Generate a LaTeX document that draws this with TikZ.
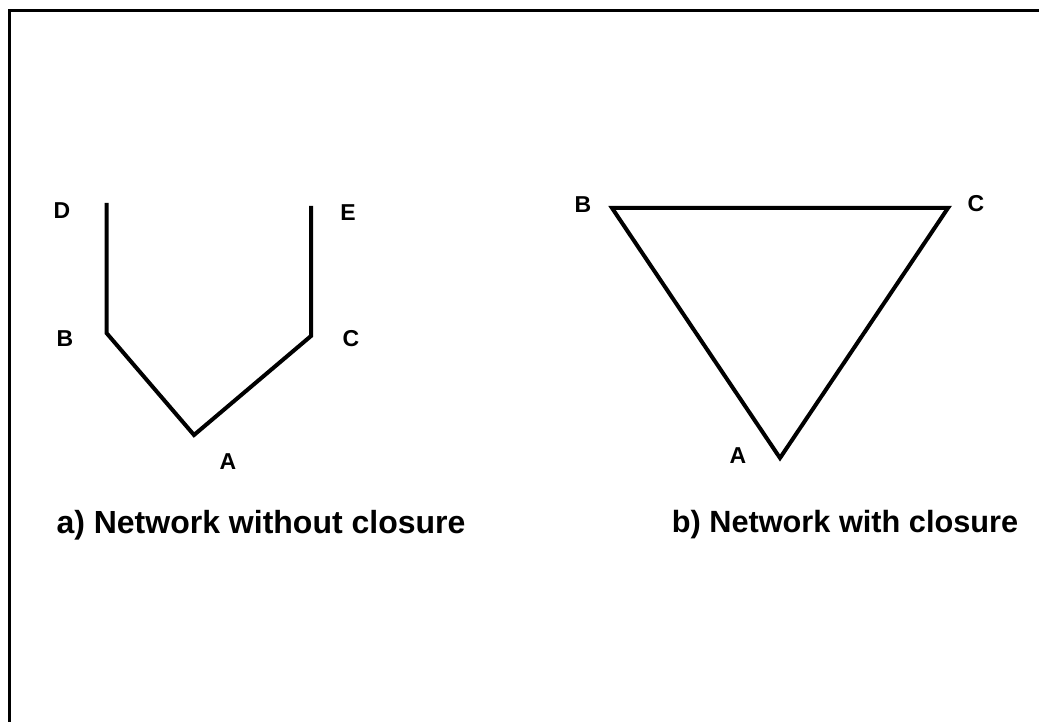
\documentclass[tikz,border=0pt]{standalone}
\usepackage{fontspec}
\setmainfont{Liberation Sans}
\usepackage{tikz}

\tikzset{
  lbl/.style={font=\fontsize{23}{26}\selectfont\bfseries, inner sep=0pt},
  capt/.style={font=\fontsize{32}{36}\selectfont\bfseries, inner sep=0pt},
  netline/.style={line width=4pt, line join=miter},
}

\begin{document}
\begin{tikzpicture}[x=1pt, y=-1pt]
        \useasboundingbox (0,0) rectangle (1039,722);
        % frame (cut off at the right and at the bottom)
        \draw[line width=3pt] (9,725) -- (9,11) -- (1042,11);
        % a) network without closure
        \coordinate (aD) at (106.5,203);
        \coordinate (aB) at (106.5,333);
        \coordinate (aA) at (194,435);
        \coordinate (aC) at (311,336);
        \coordinate (aE) at (311,206);
        \draw[netline] (aD) -- (aB) -- (aA) -- (aC) -- (aE);
        \node[lbl] (labD) at (62,211) {D};
        \node[lbl] (labB) at (65,339) {B};
        \node[lbl] (labA) at (228,462) {A};
        \node[lbl] (labC) at (351,339) {C};
        \node[lbl] (labE) at (348,213) {E};
        % b) network with closure
        \coordinate (bB) at (612,208);
        \coordinate (bC) at (948,208);
        \coordinate (bA) at (780,458);
        \draw[netline] (bB) -- (bC) -- (bA) -- cycle;
        \node[lbl] (labbB) at (583,205) {B};
        \node[lbl] (labbC) at (976,204) {C};
        \node[lbl] (labbA) at (738,456) {A};
        % captions
        \node[capt] (captA) at (261,525) {a) Network without closure};
        \node[capt, font=\fontsize{30.7}{34}\selectfont\bfseries] (captB) at (845,525) {b) Network with closure};
\end{tikzpicture}
\end{document}
